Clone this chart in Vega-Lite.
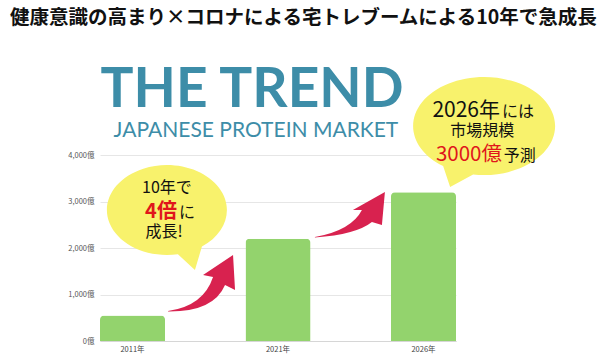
{
  "$schema": "https://vega.github.io/schema/vega-lite/v6.json",
  "width": 356,
  "height": 186,
  "autosize": {"type": "none"},
  "padding": {"left": 100, "top": 155, "right": 144, "bottom": 23},
  "background": "white",
  "config": {"view": {"stroke": null}, "font": "Noto Sans CJK JP"},
  "resolve": {"scale": {"x": "independent", "shape": "independent"}, "axis": {"x": "independent", "y": "independent"}},
  "layer": [
    {
      "data": {"values": [
        {"year": "2011年", "value": 550},
        {"year": "2021年", "value": 2200},
        {"year": "2026年", "value": 3200}
      ]},
      "mark": {"type": "bar", "color": "#93D36D", "cornerRadiusTopLeft": 4, "cornerRadiusTopRight": 4},
      "encoding": {
        "x": {"field": "year", "type": "nominal", "sort": null,
          "scale": {"paddingInner": 0.553, "paddingOuter": 0},
          "axis": {"title": null, "labelAngle": 0, "ticks": false, "labelPadding": 4, "labelFontSize": 7.5, "labelColor": "#444", "domainColor": "#d6d6d6", "labelFont": "Noto Sans CJK JP"}},
        "y": {"field": "value", "type": "quantitative",
          "scale": {"domain": [0, 4000], "nice": false},
          "axis": {"title": null, "values": [0, 1000, 2000, 3000, 4000], "labelExpr": "format(datum.value, ',') + '億'", "domain": false, "ticks": false, "labelPadding": 6, "labelFontSize": 7.5, "labelColor": "#555", "gridColor": "#e6e6e6", "labelFont": "Noto Sans CJK JP"}}
      }
    },
    {
      "data": {"values": [
        {"id": "b1", "x": 18.8, "y": 2817},
        {"id": "b2", "x": 107.9, "y": 4623}
      ]},
      "mark": {"type": "point", "filled": true, "opacity": 1, "size": 10000, "color": "#F8F26C", "strokeWidth": 0},
      "encoding": {
        "x": {"field": "x", "type": "quantitative", "scale": {"domain": [0, 100], "nice": false, "zero": false}, "axis": null},
        "y": {"field": "y", "type": "quantitative", "scale": {"domain": [0, 4000], "nice": false}, "axis": null},
        "shape": {"field": "id", "type": "nominal", "legend": null, "scale": {"domain": ["b1", "b2"], "range": [
          "M 0.7 0.731 A 1.2 0.9 0 1 0 0.22 0.885 L 0.56 1.2 Z",
          "M -0.22 0.968 A 1.42 0.98 0 1 0 -0.82 0.8 L -0.68 1.22 Z"
        ]}}
      }
    },
    {
      "data": {"values": [
        {"id": "a1", "x": 28.1, "y": 1247},
        {"id": "a2", "x": 70.2, "y": 2709}
      ]},
      "mark": {"type": "point", "filled": true, "opacity": 1, "size": 10000, "color": "#D8224F", "strokeWidth": 0},
      "encoding": {
        "x": {"field": "x", "type": "quantitative", "scale": {"domain": [0, 100], "nice": false, "zero": false}, "axis": null},
        "y": {"field": "y", "type": "quantitative", "scale": {"domain": [0, 4000], "nice": false}, "axis": null},
        "shape": {"field": "id", "type": "nominal", "legend": null, "scale": {"domain": ["a1", "a2"], "range": [
          "M -0.64 0.56 Q 0.07 0.46 0.26 -0.12 L 0.06 -0.16 L 0.66 -0.56 L 0.7 0.14 L 0.5 0.04 Q 0.27 0.58 -0.64 0.57 Z",
          "M -0.7 0.44 Q 0.03 0.31 0.24 -0.1 L 0.06 -0.1 L 0.7 -0.46 L 0.64 0.2 L 0.44 0.14 Q 0.13 0.39 -0.7 0.45 Z"
        ]}}
      }
    },
    {
      "data": {"values": [{"text": "健康意識の高まり×コロナによる宅トレブームによる10年で急成長", "x": -25.28, "y": 6944}]},
      "mark": {"type": "text", "align": "left", "baseline": "middle", "fontSize": 19.5, "fontWeight": "bold", "color": "#111", "font": "Noto Sans CJK JP"},
      "encoding": {
        "x": {"field": "x", "type": "quantitative", "scale": {"domain": [0, 100], "nice": false, "zero": false}, "axis": null},
        "y": {"field": "y", "type": "quantitative", "scale": {"domain": [0, 4000], "nice": false}, "axis": null},
        "text": {"field": "text"}
      }
    },
    {
      "data": {"values": [{"text": "THE TREND", "x": 42.7, "y": 5031}]},
      "mark": {"type": "text", "align": "center", "baseline": "alphabetic", "fontSize": 55, "fontWeight": "bold", "color": "#3D8DA8", "font": "Lato"},
      "encoding": {
        "x": {"field": "x", "type": "quantitative", "scale": {"domain": [0, 100], "nice": false, "zero": false}, "axis": null},
        "y": {"field": "y", "type": "quantitative", "scale": {"domain": [0, 4000], "nice": false}, "axis": null},
        "text": {"field": "text"}
      }
    },
    {
      "data": {"values": [{"text": "JAPANESE PROTEIN MARKET", "x": 43.8, "y": 4385}]},
      "mark": {"type": "text", "align": "center", "baseline": "alphabetic", "fontSize": 21, "color": "#3D8DA8", "font": "Lato"},
      "encoding": {
        "x": {"field": "x", "type": "quantitative", "scale": {"domain": [0, 100], "nice": false, "zero": false}, "axis": null},
        "y": {"field": "y", "type": "quantitative", "scale": {"domain": [0, 4000], "nice": false}, "axis": null},
        "text": {"field": "text"}
      }
    },
    {
      "data": {"values": [
        {"text": "10年で", "x": 18.8, "y": 3182},
        {"text": "成長!", "x": 18.0, "y": 2236},
        {"text": "市場規模", "x": 107.4, "y": 4400}
      ]},
      "mark": {"type": "text", "align": "center", "baseline": "alphabetic", "fontSize": 16, "color": "#111", "font": "Noto Sans CJK JP"},
      "encoding": {
        "x": {"field": "x", "type": "quantitative", "scale": {"domain": [0, 100], "nice": false, "zero": false}, "axis": null},
        "y": {"field": "y", "type": "quantitative", "scale": {"domain": [0, 4000], "nice": false}, "axis": null},
        "text": {"field": "text"}
      }
    },
    {
      "data": {"values": [
        {"text": "に", "x": 22.2, "y": 2644},
        {"text": "には", "x": 112.9, "y": 4827},
        {"text": "予測", "x": 113.4, "y": 3870}
      ]},
      "mark": {"type": "text", "align": "left", "baseline": "alphabetic", "fontSize": 16, "color": "#111", "font": "Noto Sans CJK JP"},
      "encoding": {
        "x": {"field": "x", "type": "quantitative", "scale": {"domain": [0, 100], "nice": false, "zero": false}, "axis": null},
        "y": {"field": "y", "type": "quantitative", "scale": {"domain": [0, 4000], "nice": false}, "axis": null},
        "text": {"field": "text"}
      }
    },
    {
      "data": {"values": [{"text": "4倍", "x": 21.6, "y": 2644}]},
      "mark": {"type": "text", "align": "right", "baseline": "alphabetic", "fontSize": 20, "fontWeight": "bold", "color": "#E0161B", "font": "Noto Sans CJK JP"},
      "encoding": {
        "x": {"field": "x", "type": "quantitative", "scale": {"domain": [0, 100], "nice": false, "zero": false}, "axis": null},
        "y": {"field": "y", "type": "quantitative", "scale": {"domain": [0, 4000], "nice": false}, "axis": null},
        "text": {"field": "text"}
      }
    },
    {
      "data": {"values": [{"text": "2026年", "x": 112.36, "y": 4827}]},
      "mark": {"type": "text", "align": "right", "baseline": "alphabetic", "fontSize": 21, "color": "#111", "font": "Noto Sans CJK JP"},
      "encoding": {
        "x": {"field": "x", "type": "quantitative", "scale": {"domain": [0, 100], "nice": false, "zero": false}, "axis": null},
        "y": {"field": "y", "type": "quantitative", "scale": {"domain": [0, 4000], "nice": false}, "axis": null},
        "text": {"field": "text"}
      }
    },
    {
      "data": {"values": [{"text": "3000億", "x": 112.9, "y": 3870}]},
      "mark": {"type": "text", "align": "right", "baseline": "alphabetic", "fontSize": 20.5, "color": "#E0161B", "font": "Noto Sans CJK JP"},
      "encoding": {
        "x": {"field": "x", "type": "quantitative", "scale": {"domain": [0, 100], "nice": false, "zero": false}, "axis": null},
        "y": {"field": "y", "type": "quantitative", "scale": {"domain": [0, 4000], "nice": false}, "axis": null},
        "text": {"field": "text"}
      }
    }
  ]
}
